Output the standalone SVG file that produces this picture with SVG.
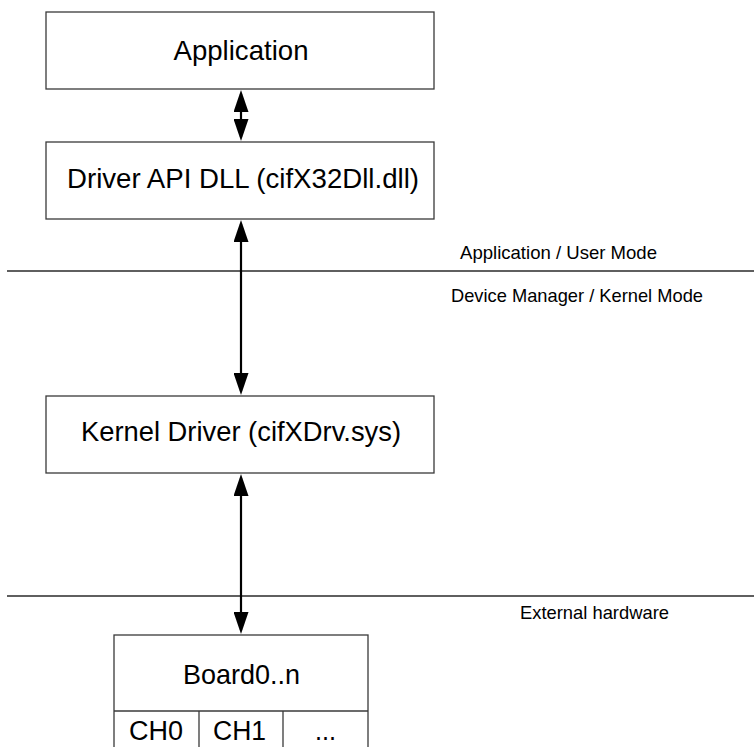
<svg xmlns="http://www.w3.org/2000/svg" width="754" height="747" viewBox="0 0 754 747">
  <style>
    .box { fill: #ffffff; stroke: #3a3a3a; stroke-width: 1.3; }
    .sep { stroke: #2a2a2a; stroke-width: 1.3; fill: none; }
    .link { stroke: #000000; stroke-width: 2.2; fill: none; marker-start: url(#head); marker-end: url(#head); }
    .big { font-family: "Liberation Sans", Arial, sans-serif; font-size: 28px; fill: #000000; text-anchor: middle; }
    .cell { font-family: "Liberation Sans", Arial, sans-serif; font-size: 27px; fill: #000000; text-anchor: middle; }
    .small { font-family: "Liberation Sans", Arial, sans-serif; font-size: 18.5px; fill: #000000; }
  </style>
  <defs>
    <marker id="head" viewBox="0 0 22 15" refX="18" refY="7.5" markerWidth="22" markerHeight="15" markerUnits="userSpaceOnUse" orient="auto-start-reverse">
      <path d="M0,0 L22,7.5 L0,15 Z" fill="#000000"/>
    </marker>
  </defs>

  <rect width="754" height="747" fill="#ffffff"/>

  <!-- layer separators -->
  <g id="separators">
    <line class="sep" x1="7" y1="271" x2="754" y2="271"/>
    <line class="sep" x1="7" y1="596" x2="754" y2="596"/>
  </g>

  <!-- layer captions -->
  <g id="captions">
    <text class="small" x="460" y="259" textLength="197" lengthAdjust="spacingAndGlyphs">Application / User Mode</text>
    <text class="small" x="451" y="302" textLength="252" lengthAdjust="spacingAndGlyphs">Device Manager / Kernel Mode</text>
    <text class="small" x="520" y="619" textLength="149" lengthAdjust="spacingAndGlyphs">External hardware</text>
  </g>

  <!-- bidirectional links between the layers -->
  <g id="connectors">
    <line class="link" x1="241" y1="94" x2="241" y2="137"/>
    <line class="link" x1="241" y1="224" x2="241" y2="391"/>
    <line class="link" x1="241" y1="478" x2="241" y2="630"/>
  </g>

  <g id="application">
    <rect class="box" x="46" y="12" width="388" height="77"/>
    <text class="big" x="241" y="60" textLength="135" lengthAdjust="spacingAndGlyphs">Application</text>
  </g>

  <g id="driver-api-dll">
    <rect class="box" x="46" y="142" width="388" height="77"/>
    <text class="big" x="243" y="188" textLength="352" lengthAdjust="spacingAndGlyphs">Driver API DLL (cifX32Dll.dll)</text>
  </g>

  <g id="kernel-driver">
    <rect class="box" x="46" y="396" width="388" height="77"/>
    <text class="big" x="241" y="441" textLength="320" lengthAdjust="spacingAndGlyphs">Kernel Driver (cifXDrv.sys)</text>
  </g>

  <g id="board">
    <rect class="box" x="114" y="635" width="254" height="130"/>
    <line class="box" x1="114" y1="711" x2="368" y2="711"/>
    <line class="box" x1="199" y1="711" x2="199" y2="765"/>
    <line class="box" x1="283" y1="711" x2="283" y2="765"/>
    <text class="big" x="241.5" y="684" textLength="117" lengthAdjust="spacingAndGlyphs">Board0..n</text>
    <text class="cell" x="156" y="740" textLength="54" lengthAdjust="spacingAndGlyphs">CH0</text>
    <text class="cell" x="239.5" y="740" textLength="53" lengthAdjust="spacingAndGlyphs">CH1</text>
    <text class="cell" x="325.5" y="740" textLength="21" lengthAdjust="spacingAndGlyphs">...</text>
  </g>
</svg>
